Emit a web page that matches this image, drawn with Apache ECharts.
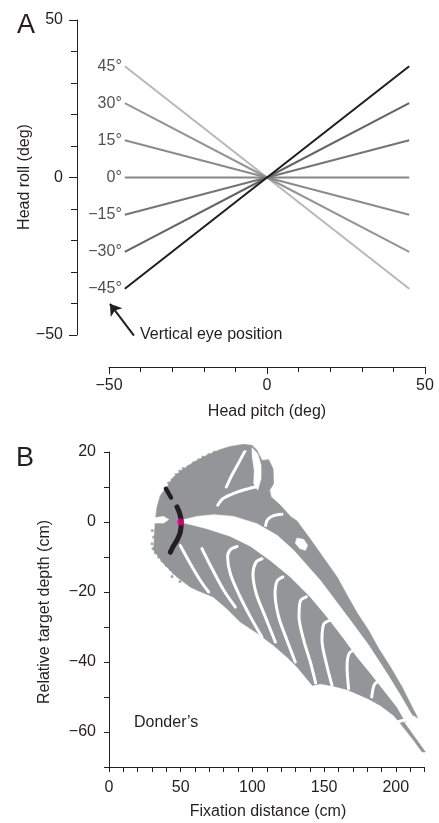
<!DOCTYPE html>
<html>
<head>
<meta charset="utf-8">
<script src="https://cdn.jsdelivr.net/npm/echarts@6/dist/echarts.min.js"></script>
<style>
  html, body { margin: 0; padding: 0; background: #fff; }
  #chart { width: 439px; height: 823px; }
</style>
</head>
<body>
<div id="chart"></div>
<script>
// ---------- Panel A: head roll vs head pitch for several vertical eye positions ----------
const eyeLabels   = ['45\u00b0', '30\u00b0', '15\u00b0', '0\u00b0', '\u221215\u00b0', '\u221230\u00b0', '\u221245\u00b0'];
const pitchLeft   = -45;
const pitchRight  = 45;
const rollAtLeft  = [35.3, 23.6, 11.8, 0, -11.8, -23.6, -35.3];
const rollAtRight = [-35.3, -23.6, -11.8, 0, 11.8, 23.6, 35.3];
const lineColors  = ['#b8b8b8', '#959595', '#8b8b8b', '#858585', '#747474', '#646464', '#1f1c1d'];
const arrowTail   = [-42.1, -50.2];
const arrowTip    = [-49.7, -40.1];

// ---------- Panel B: relative target depth vs fixation distance ----------
// outline of the reachable region (fixation distance cm, relative depth cm)
const regionOutline = [
  [31.1, -8.1], [31.6, -4.3], [32.3, 0.5], [33.5, 4.3], [35.8, 7.6], [40.4, 10.0], [45.1, 12.9],
  [52.1, 15.2], [59.0, 17.1], [68.3, 19.1], [77.6, 20.7], [84.6, 21.6], [93.9, 22.2], [99.7, 21.9],
  [103.2, 20.5], [106.7, 17.6], [111.3, 17.8], [114.4, 15.2], [114.8, 11.0], [112.0, 9.1], [113.0, 7.2],
  [119.5, 4.8], [126.5, 1.6], [131.1, 0.3], [142.5, -6.1], [150.9, -11.0], [159.2, -15.8], [166.0, -20.9],
  [173.2, -26.1], [181.1, -31.0], [187.4, -35.7], [196.2, -41.4], [204.3, -47.1], [210.2, -51.9],
  [215.3, -56.0], [207.8, -56.8], [205.5, -57.1], [220.6, -65.7], [218.3, -65.7], [212.5, -62.4],
  [203.2, -57.6], [198.3, -55.2], [189.2, -52.4], [180.2, -50.4], [166.2, -47.9], [156.7, -46.9],
  [147.4, -46.2], [141.8, -46.7], [131.3, -41.5], [124.1, -38.6], [114.6, -35.2], [103.2, -31.7],
  [91.6, -28.6], [82.3, -24.8], [72.7, -21.4], [61.4, -19.5], [56.7, -18.6], [47.4, -15.7], [38.1, -11.9]
];
// empty channel running from the fixation point down to the far tip
const mainGap = [
  [50.2, 0.5], [61.4, 1.6], [73.0, 2.1], [86.9, 1.6], [103.2, -0.5], [117.2, -3.8], [128.8, -8.1],
  [147.4, -16.7], [168.3, -28.1], [181.1, -35.2], [193.9, -43.3], [203.2, -49.5], [211.3, -55.2],
  [216.7, -56.5], [207.8, -57.0], [205.3, -56.1], [200.9, -52.9], [191.6, -48.1], [182.3, -43.2],
  [173.0, -38.6], [163.7, -33.3], [152.0, -27.1], [140.4, -21.4], [126.5, -15.7], [112.5, -11.0],
  [98.6, -6.9], [84.6, -4.1], [68.3, -1.9], [56.7, -0.7], [50.7, -0.1]
];
const topNotch = [
  [99.7, 21.2], [103.7, 19.5], [106.0, 16.2], [106.0, 12.4], [103.7, 9.1], [100.9, 11.0], [101.3, 14.8], [99.9, 18.6]
];
const innerHole = [
  [131.1, -4.6], [135.8, -5.0], [138.5, -6.7], [136.9, -8.1], [133.0, -7.6], [129.9, -6.0]
];
const leftNotch = [
  [31.1, 1.2], [38.1, 1.6], [41.6, 0.7], [38.1, -0.3], [31.6, -0.3]
];
// empty arcs inside the region
const emptyArcs = [
  [[49.7, -6.7], [56.7, -11.9], [63.7, -16.7], [69.5, -20.0]],
  [[64.8, -7.6], [71.8, -13.3], [80.0, -19.5], [88.1, -24.3]],
  [[89.3, -7.0], [84.6, -7.9], [82.7, -10.0], [84.6, -14.8], [90.4, -20.5], [98.6, -27.1], [106.7, -32.9]],
  [[106.7, -10.5], [102.5, -11.5], [100.4, -14.8], [102.7, -20.5], [109.0, -27.1], [116.0, -34.3]],
  [[121.3, -15.7], [117.2, -16.9], [115.8, -20.5], [118.3, -27.1], [124.1, -33.8], [129.9, -40.0]],
  [[137.6, -21.4], [133.4, -22.6], [132.5, -27.1], [135.8, -33.8], [140.4, -40.0], [144.1, -46.0]],
  [[153.9, -28.1], [149.7, -29.2], [148.5, -33.8], [151.6, -40.5], [155.5, -46.7]],
  [[171.3, -36.5], [167.4, -37.6], [166.0, -41.4], [167.1, -47.6]],
  [[188.8, -45.4], [185.1, -46.4], [183.2, -50.0]],
  [[207.0, -56.5], [202.1, -57.0], [199.0, -57.4]],
  [[75.8, 4.8], [79.5, 6.7], [86.5, 8.1], [94.4, 9.2], [102.0, 10.0]],
  [[95.1, 20.5], [90.4, 16.9], [85.1, 12.9], [81.8, 10.0]],
  [[120.6, 2.2], [114.8, 1.8], [110.6, 0.7], [109.2, -1.0]]
];
// scattered samples along the ragged left fringe
const fringePoints = [
  [39.3, 9.5], [41.6, 11.2], [43.9, 12.1], [46.9, 13.6], [49.3, 14.6], [51.6, 15.3], [55.5, 15.9],
  [59.0, 16.9], [62.5, 17.8], [65.5, 18.6], [69.5, 19.3], [73.4, 20.0], [45.1, 11.0], [48.6, 12.7],
  [53.9, 14.3], [30.0, -6.2], [30.7, -7.6], [32.3, -8.8], [34.6, -10.0], [36.9, -11.1], [40.0, -12.4],
  [42.8, -13.6], [45.1, -14.6], [35.8, -9.0], [31.1, -4.3], [30.2, -2.4], [44.0, -15.6], [49.5, -17.0]
];
// Donders' constraint positions
const dondersUpper = [[39.7, 9.5], [43.2, 7.0]];
const dondersMain  = [[47.4, 4.3], [49.3, 2.4], [50.4, 0.0], [49.7, -2.9], [47.4, -5.2], [44.6, -7.1], [42.8, -8.6]];
const fixationPoint = [50, 0];

const INK = '#231f20';
const CLOUD = '#939598';
const FONT = '"Liberation Sans", Arial, Helvetica, sans-serif';
const minus = v => (v < 0 ? '\u2212' + Math.abs(v) : String(v));

function polygonSeries(points, color) {
  return {
    type: 'custom', xAxisIndex: 1, yAxisIndex: 1, silent: true, clip: false,
    data: [points[0]],
    renderItem: (params, api) => ({
      type: 'polygon',
      shape: { points: points.map(p => api.coord(p)) },
      style: { fill: color, stroke: color, lineWidth: 0.6 }
    })
  };
}

const series = [];

// panel A lines
rollAtLeft.forEach((r, i) => {
  series.push({
    type: 'line', xAxisIndex: 0, yAxisIndex: 0, symbol: 'none', silent: true,
    lineStyle: { color: lineColors[i], width: 2 },
    data: [[pitchLeft, r], [0, 0], [pitchRight, rollAtRight[i]]]
  });
});
series.push({
  type: 'scatter', xAxisIndex: 0, yAxisIndex: 0, symbolSize: 0, silent: true,
  data: rollAtLeft.map(r => [pitchLeft, r]),
  label: {
    show: true, position: 'left', distance: 3,
    formatter: p => eyeLabels[p.dataIndex],
    fontSize: 16, fontFamily: FONT, color: INK
  }
});
series.push({
  type: 'lines', coordinateSystem: 'cartesian2d', xAxisIndex: 0, yAxisIndex: 0, silent: true,
  symbol: ['none', 'arrow'], symbolSize: 11,
  lineStyle: { color: INK, width: 2, opacity: 1 },
  data: [{ coords: [arrowTail, arrowTip] }]
});

// panel B region
series.push(polygonSeries(regionOutline, CLOUD));
series.push({
  type: 'scatter', xAxisIndex: 1, yAxisIndex: 1, silent: true, symbolSize: 3,
  itemStyle: { color: CLOUD }, data: fringePoints
});
series.push(polygonSeries(mainGap, '#ffffff'));
series.push(polygonSeries(topNotch, '#ffffff'));
series.push(polygonSeries(innerHole, '#ffffff'));
series.push(polygonSeries(leftNotch, '#ffffff'));
emptyArcs.forEach(a => {
  series.push({
    type: 'line', xAxisIndex: 1, yAxisIndex: 1, symbol: 'none', silent: true, smooth: 0.3,
    lineStyle: { color: '#ffffff', width: 3, cap: 'round' }, data: a
  });
});
series.push({
  type: 'line', xAxisIndex: 1, yAxisIndex: 1, symbol: 'none', silent: true, z: 5,
  lineStyle: { color: INK, width: 4.5, cap: 'round' }, data: dondersUpper
});
series.push({
  type: 'line', xAxisIndex: 1, yAxisIndex: 1, symbol: 'none', silent: true, smooth: 0.4, z: 5,
  lineStyle: { color: INK, width: 5, cap: 'round' }, data: dondersMain
});
series.push({
  type: 'scatter', xAxisIndex: 1, yAxisIndex: 1, silent: true, symbolSize: 7, z: 10,
  itemStyle: { color: '#ec008c' }, data: [fixationPoint]
});

function axisBase(extra) {
  return Object.assign({
    type: 'value',
    axisLine: { show: true, onZero: false, lineStyle: { color: INK, width: 1 } },
    splitLine: { show: false }
  }, extra);
}
const labelBase = { color: INK, fontSize: 16, fontFamily: FONT };

const option = {
  animation: false,
  backgroundColor: '#ffffff',
  grid: [
    { left: 109, top: 20, width: 316, height: 315 },
    { left: 109, top: 452, width: 315.5, height: 315 }
  ],
  xAxis: [
    axisBase({
      gridIndex: 0, min: -50, max: 50, interval: 50, offset: 32, position: 'bottom',
      axisTick: { show: true, length: 7, lineStyle: { color: INK } },
      minorTick: { show: true, splitNumber: 5, length: 5, lineStyle: { color: INK } },
      axisLabel: Object.assign({}, labelBase, { margin: 11, formatter: minus })
    }),
    axisBase({
      gridIndex: 1, min: 0, max: 220, interval: 10, position: 'bottom',
      axisTick: { show: true, length: 5, lineStyle: { color: INK } },
      axisLabel: Object.assign({}, labelBase, {
        margin: 13, interval: 0, formatter: v => (v % 50 === 0 ? minus(v) : '')
      })
    })
  ],
  yAxis: [
    axisBase({
      gridIndex: 0, min: -50, max: 50, interval: 50, offset: 32, position: 'left',
      axisTick: { show: true, length: 8, lineStyle: { color: INK } },
      minorTick: { show: true, splitNumber: 5, length: 6, lineStyle: { color: INK } },
      axisLabel: Object.assign({}, labelBase, { margin: 14, formatter: minus })
    }),
    axisBase({
      gridIndex: 1, min: -70, max: 20, interval: 10, position: 'left',
      axisTick: { show: true, length: 5, lineStyle: { color: INK } },
      axisLabel: Object.assign({}, labelBase, {
        margin: 13, interval: 0, formatter: v => (v % 20 === 0 ? minus(v) : '')
      })
    })
  ],
  graphic: [
    { type: 'text', x: 17, y: 26, style: { text: 'A', font: '27px ' + FONT, fill: INK, verticalAlign: 'middle' } },
    { type: 'text', x: 16, y: 459, style: { text: 'B', font: '27px ' + FONT, fill: INK, verticalAlign: 'middle' } },
    { type: 'text', x: 25, y: 177, rotation: Math.PI / 2,
      style: { text: 'Head roll (deg)', font: '16px ' + FONT, fill: INK, align: 'center', verticalAlign: 'middle' } },
    { type: 'text', x: 267, y: 412,
      style: { text: 'Head pitch (deg)', font: '16px ' + FONT, fill: INK, align: 'center', verticalAlign: 'middle' } },
    { type: 'text', x: 140, y: 335,
      style: { text: 'Vertical eye position', font: '16px ' + FONT, fill: INK, align: 'left', verticalAlign: 'middle' } },
    { type: 'text', x: 45, y: 612, rotation: Math.PI / 2,
      style: { text: 'Relative target depth (cm)', font: '16px ' + FONT, fill: INK, align: 'center', verticalAlign: 'middle' } },
    { type: 'text', x: 268, y: 812,
      style: { text: 'Fixation distance (cm)', font: '16px ' + FONT, fill: INK, align: 'center', verticalAlign: 'middle' } },
    { type: 'text', x: 134, y: 723,
      style: { text: 'Donder\u2019s', font: '16px ' + FONT, fill: INK, align: 'left', verticalAlign: 'middle' } }
  ],
  series: series
};

const chart = echarts.init(document.getElementById('chart'), null, { renderer: 'canvas' });
chart.setOption(option);
</script>
</body>
</html>
